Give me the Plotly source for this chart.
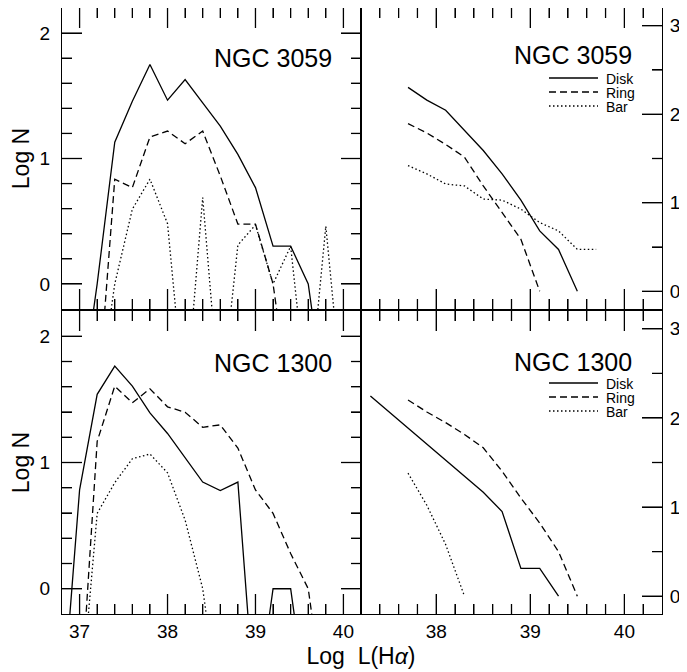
import plotly.graph_objects as go

# ---------------- data ----------------
# differential LF bins (left panels), -1 marks empty bins (log 0 -> off-scale)
x_diff = [36.8, 37.0, 37.2, 37.4, 37.6, 37.8, 38.0, 38.2, 38.4, 38.6, 38.8,
          39.0, 39.2, 39.4, 39.6, 39.8, 40.0]

n3059_disk = [-1, -1, 0.0, 1.13, 1.457, 1.749, 1.465, 1.63, 1.444, 1.258, 1.033,
              0.768, 0.301, 0.301, 0.0, -1, -1]
n3059_ring = [-1, -1, -1, 0.835, 0.768, 1.171, 1.219, 1.118, 1.219, 0.861, 0.477,
              0.477, 0.0, -1, -1, -1, -1]
n3059_bar = [-1, -1, -1, 0.0, 0.596, 0.835, 0.48, -1, 0.689, -1, 0.31,
             0.47, 0.0, 0.30, -1, 0.46, -1]

n1300_disk = [-1, 0.783, 1.54, 1.764, 1.605, 1.393, 1.23, 1.04, 0.845, 0.777, 0.845,
              -1, 0.0, 0.0, -1, -1, -1]
n1300_ring = [-1, -1, 1.167, 1.605, 1.473, 1.584, 1.441, 1.398, 1.279, 1.298, 1.114,
              0.783, 0.597, 0.279, 0.0, -1, -1]
n1300_bar = [-1, -1, 0.597, 0.84, 1.03, 1.067, 0.918, 0.544, 0.0, -1, -1,
             -1, -1, -1, -1, -1, -1]

# cumulative LF bins (right panels)
x_cum = [37.3, 37.5, 37.7, 37.9, 38.1, 38.3, 38.5, 38.7, 38.9, 39.1, 39.3, 39.5, 39.7]

c3059_disk = [None, None, 2.303, 2.159, 2.045, 1.818, 1.59, 1.326, 1.03, 0.682, 0.473, 0.0, None]
c3059_ring = [None, None, 1.894, 1.788, 1.659, 1.515, 1.19, 0.886, 0.587, 0.0, None, None, None]
c3059_bar = [None, None, 1.42, 1.326, 1.212, 1.19, 1.042, 1.03, 0.928, 0.776, 0.682, 0.473, 0.473]

c1300_disk = [2.247, 2.067, 1.887, 1.706, 1.533, 1.345, 1.165, 0.95, 0.312, 0.312, 0.0, None, None]
c1300_ring = [None, None, 2.202, 2.067, 1.947, 1.815, 1.665, 1.402, 1.101, 0.82, 0.5, 0.0, None]
c1300_bar = [None, None, 1.38, 1.02, 0.58, 0.0, None, None, None, None, None, None, None]

series_names = ["Disk", "Ring", "Bar"]
galaxies = ["NGC 3059", "NGC 1300"]

# tick positions
xmaj_left = [37, 38, 39, 40]
xmin_left = [37.2, 37.4, 37.6, 37.8, 38.2, 38.4, 38.6, 38.8, 39.2, 39.4, 39.6, 39.8]
xmaj_right = [38, 39, 40]
xmin_right = [37.4, 37.6, 37.8, 38.2, 38.4, 38.6, 38.8, 39.2, 39.4, 39.6, 39.8, 40.2]
ymaj_left = [0, 1, 2]
ymin_left = [0.2, 0.4, 0.6, 0.8, 1.2, 1.4, 1.6, 1.8]
ymaj_right = [0, 1, 2, 3]
ymin_right = [0.5, 1.5, 2.5]

# ---------------- styling ----------------
FONT = "Liberation Sans"
DASH = {"Disk": "solid", "Ring": "7px,4px", "Bar": "1.5px,2.5px"}
LW = 1.3
MAJ, MIN = 20, 10

fig = go.Figure()

def add(x, y, name, xa, ya):
    fig.add_trace(go.Scatter(x=x, y=y, mode="lines", name=name, showlegend=False,
                             line=dict(color="black", width=LW, dash=DASH[name]),
                             xaxis=xa, yaxis=ya))

for nm, ys in zip(series_names, [n3059_disk, n3059_ring, n3059_bar]):
    add(x_diff, ys, nm, "x3", "y3")
for nm, ys in zip(series_names, [c3059_disk, c3059_ring, c3059_bar]):
    add(x_cum, ys, nm, "x4", "y4")
for nm, ys in zip(series_names, [n1300_disk, n1300_ring, n1300_bar]):
    add(x_diff, ys, nm, "x", "y")
for nm, ys in zip(series_names, [c1300_disk, c1300_ring, c1300_bar]):
    add(x_cum, ys, nm, "x2", "y2")

# the page is drawn with an 8px body offset; positions below are in window pixels
OFF = 8
W, H = 687 - OFF, 672 - OFF
ML, MR, MT, MB = 62 - OFF, 25, 0, 58
PW, PH = W - ML - MR, H - MT - MB
xsplit = 299 / PW
top_lo = (614 - 309) / PH
bot_hi = (614 - 311) / PH

tickfont = dict(family=FONT, size=19, color="black")
titlefont = dict(family=FONT, size=23, color="black")

def xax(domain, anchor, rng, labels):
    return dict(domain=domain, anchor=anchor, range=rng,
                tickmode="linear", tick0=0, dtick=1,
                showticklabels=labels, ticks="inside", ticklen=20,
                tickcolor="black", tickwidth=1.3,
                showline=True, linecolor="black", mirror="allticks",
                showgrid=False, zeroline=False, tickfont=tickfont,
                minor=dict(dtick=0.2, tick0=0, ticks="inside", ticklen=10))

def yax_left(domain, anchor):
    return dict(domain=domain, anchor=anchor, range=[-0.2, 2.2],
                tickmode="linear", tick0=0, dtick=1,
                ticks="inside", ticklen=20, tickcolor="black", tickwidth=1.3,
                showline=True, linecolor="black", mirror="allticks",
                showgrid=False, zeroline=False, tickfont=tickfont, ticklabelstandoff=7,
                title=dict(text="Log N", font=titlefont, standoff=6),
                minor=dict(dtick=0.2, tick0=0, ticks="inside", ticklen=10))

def yax_right(domain, anchor):
    return dict(domain=domain, anchor=anchor, range=[-0.2, 3.2],
                tickmode="linear", tick0=0, dtick=1,
                side="right", ticks="inside", ticklen=20, tickcolor="black", tickwidth=1.3,
                showline=True, linecolor="black", mirror=True,
                showgrid=False, zeroline=False, tickfont=tickfont, ticklabelstandoff=3,
                minor=dict(dtick=0.5, tick0=0, ticks="inside", ticklen=10))

def px2paper_x(px):
    return (px - 62) / PW

def px2paper_y(py):
    return (614 - py) / PH

fig.update_layout(
    width=W, height=H, margin=dict(l=ML, r=MR, t=MT, b=MB),
    plot_bgcolor="white", showlegend=False,
    xaxis=xax([0, xsplit], "y", [36.8, 40.2], True),
    yaxis=yax_left([0, bot_hi], "x"),
    xaxis2=xax([xsplit, 1], "y2", [37.2, 40.4], True),
    yaxis2=yax_right([0, bot_hi], "x2"),
    xaxis3=xax([0, xsplit], "y3", [36.8, 40.2], False),
    yaxis3=yax_left([top_lo, 1], "x3"),
    xaxis4=xax([xsplit, 1], "y4", [37.2, 40.4], False),
    yaxis4=yax_right([top_lo, 1], "x4"),
    title=dict(text="Log  L(H<i>α</i>)", font=titlefont, xref="container", yref="container",
               x=(361 - OFF) / W, y=1 - (656 - OFF) / H, xanchor="center", yanchor="middle"),
)

# ---------------- tick marks placed through the axes' own scales ----------------
shapes = []
tick_line = dict(color="black", width=1.3)

def xticks(xa, ya, majors, minors):
    for vals, L in [(majors, MAJ), (minors, MIN)]:
        for v in vals:
            # bottom edge (pointing up) and top edge (pointing down)
            shapes.append(dict(type="line", xref=xa, yref=ya + " domain", x0=v, x1=v,
                               ysizemode="pixel", yanchor=0, y0=0, y1=L, line=tick_line))
            shapes.append(dict(type="line", xref=xa, yref=ya + " domain", x0=v, x1=v,
                               ysizemode="pixel", yanchor=1, y0=0, y1=-L, line=tick_line))

def yticks(xa, ya, majors, minors, left=True, right=True):
    for vals, L in [(majors, MAJ), (minors, MIN)]:
        for v in vals:
            if left:
                shapes.append(dict(type="line", xref=xa + " domain", yref=ya, y0=v, y1=v,
                                   xsizemode="pixel", xanchor=0, x0=0, x1=L, line=tick_line))
            if right:
                shapes.append(dict(type="line", xref=xa + " domain", yref=ya, y0=v, y1=v,
                                   xsizemode="pixel", xanchor=1, x0=0, x1=-L, line=tick_line))

for xa, ya in [("x", "y"), ("x3", "y3")]:
    xticks(xa, ya, xmaj_left, xmin_left)
    yticks(xa, ya, ymaj_left, ymin_left, left=True, right=True)
for xa, ya in [("x2", "y2"), ("x4", "y4")]:
    xticks(xa, ya, xmaj_right, xmin_right)
    yticks(xa, ya, ymaj_right, ymin_right, left=False, right=True)

# ---------------- labels and legends ----------------
ann = []
for name, xr, yc in [(galaxies[0], 334, 58), (galaxies[1], 334, 363),
                     (galaxies[0], 634, 55), (galaxies[1], 634, 362)]:
    ann.append(dict(text=name, xref="paper", yref="paper", x=px2paper_x(xr),
                    y=px2paper_y(yc), xanchor="right", yanchor="middle", showarrow=False,
                    font=dict(family=FONT, size=25, color="black")))

for ys in [(78, 92, 106), (383, 397, 411)]:
    for nm, yy in zip(series_names, ys):
        shapes.append(dict(type="line", xref="paper", yref="paper",
                           x0=px2paper_x(549), x1=px2paper_x(598),
                           y0=px2paper_y(yy), y1=px2paper_y(yy),
                           line=dict(color="black", width=LW, dash=DASH[nm])))
        ann.append(dict(text=nm, xref="paper", yref="paper", x=px2paper_x(604),
                        y=px2paper_y(yy + 1), xanchor="left", yanchor="middle",
                        showarrow=False, font=dict(family=FONT, size=14, color="black")))

fig.update_layout(annotations=ann, shapes=shapes)
fig.write_html("out.html")
